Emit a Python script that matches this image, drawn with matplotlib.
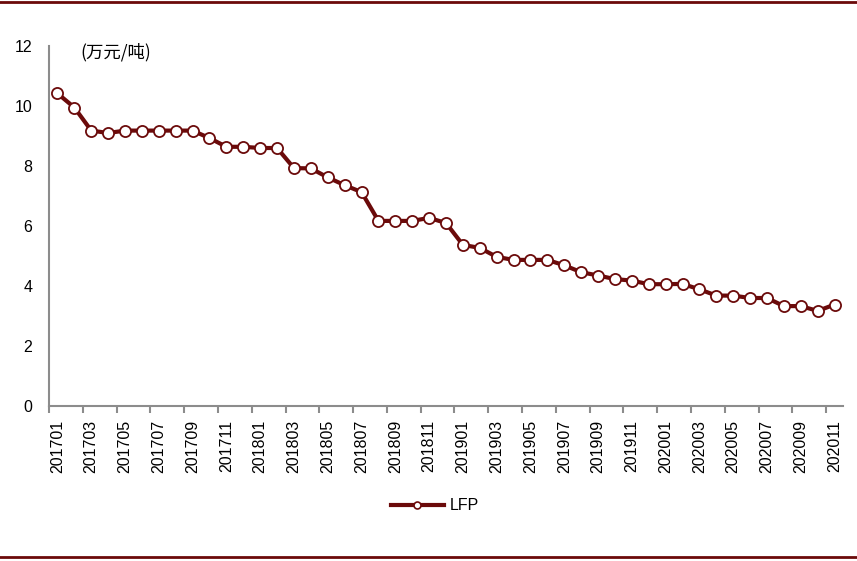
import matplotlib
matplotlib.use("Agg")
import matplotlib.pyplot as plt
from matplotlib.lines import Line2D

plt.rcParams['font.family'] = ['Liberation Sans', 'Noto Sans CJK SC', 'DejaVu Sans']

months = [f"{y}{m:02d}" for y in (2017, 2018, 2019, 2020) for m in range(1, 13)][:47]
lfp = [10.42, 9.95, 9.18, 9.1, 9.18, 9.18, 9.18, 9.18, 9.18, 8.93,
       8.64, 8.64, 8.6, 8.6, 7.93, 7.92, 7.62, 7.36, 7.13, 6.17,
       6.17, 6.17, 6.27, 6.1, 5.37, 5.27, 4.97, 4.87, 4.87, 4.87,
       4.69, 4.46, 4.35, 4.23, 4.18, 4.06, 4.06, 4.07, 3.89, 3.68,
       3.68, 3.6, 3.6, 3.33, 3.33, 3.17, 3.38]
yticks = [0, 2, 4, 6, 8, 10, 12]
unit_label = "(万元/吨)"
series_name = "LFP"

RED = "#6B0A0A"
GRAY = "#8C8C8C"

fig = plt.figure(figsize=(8.57, 5.61), dpi=100)
W, H = 857, 561
ax = fig.add_axes([49 / W, 1 - 406 / H, (843 - 49) / W, (406 - 46) / H])

x = list(range(len(lfp)))
ax.plot(x, lfp, color=RED, lw=3, marker='o', ms=8, mfc='white', mec=RED, mew=1.3,
        label=series_name, solid_joinstyle='round')

ax.set_xlim(-0.5, len(lfp) - 0.5)
ax.set_ylim(0, 12)
ax.set_yticks(yticks)
ax.set_yticklabels([str(v) for v in yticks], fontsize=11.5)
ax.tick_params(axis='y', length=0, pad=12)

ax.set_xticks([i - 0.5 for i in range(0, len(lfp), 2)])
ax.set_xticklabels([])
ax.set_xticks(list(range(0, len(lfp), 2)), minor=True)
ax.set_xticklabels([months[i] for i in range(0, len(lfp), 2)], minor=True,
                   rotation=90, fontsize=11.5)
ax.tick_params(axis='x', which='major', length=5, width=1.5, color=GRAY)
ax.tick_params(axis='x', which='minor', length=0, pad=10)

for s in ('top', 'right'):
    ax.spines[s].set_visible(False)
for s in ('left', 'bottom'):
    ax.spines[s].set_color(GRAY)
    ax.spines[s].set_linewidth(1.5)

ax.text(80 / W, 1 - 52 / H, unit_label, transform=fig.transFigure, fontsize=12.5,
        va='center', ha='left', family=['Noto Sans CJK SC', 'DejaVu Sans'])

handle = Line2D([], [], color=RED, lw=3, marker='o', ms=5, mfc='white', mec=RED, mew=1.2)
fig.legend([handle], [series_name], loc='center', bbox_to_anchor=(435 / W, 1 - 506 / H),
           frameon=False, fontsize=11.5, handlelength=3.3, handletextpad=0.4)

fig.add_artist(Line2D([0, 1], [1 - 1.5 / H, 1 - 1.5 / H], color=RED, lw=2,
                      transform=fig.transFigure))
fig.add_artist(Line2D([0, 1], [1 - 557 / H, 1 - 557 / H], color=RED, lw=2,
                      transform=fig.transFigure))

fig.savefig("out.png", dpi=100)
